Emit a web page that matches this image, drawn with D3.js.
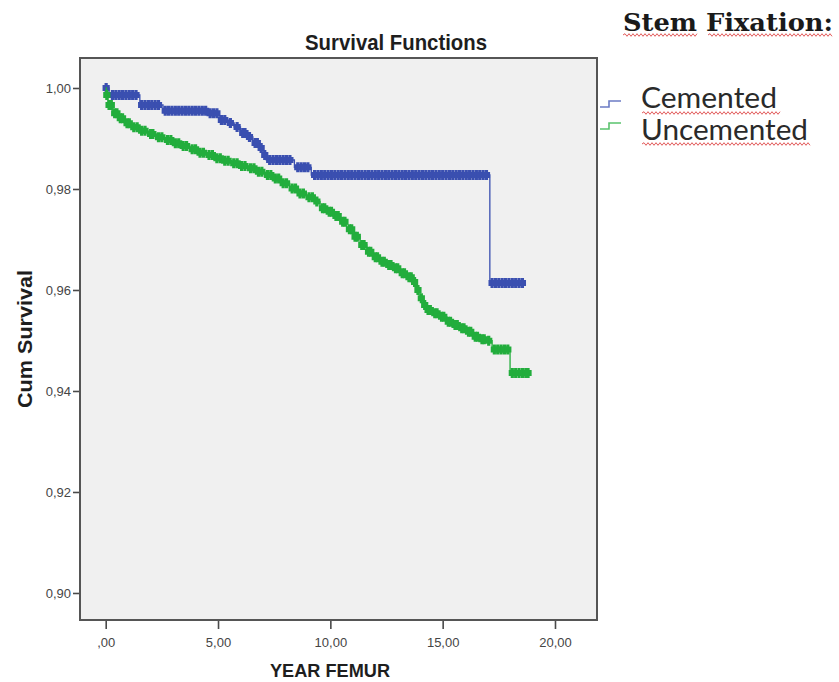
<!DOCTYPE html>
<html>
<head>
<meta charset="utf-8">
<script src="https://cdn.jsdelivr.net/npm/d3@7/dist/d3.min.js"></script>
<style>
  html, body { margin: 0; padding: 0; background: #ffffff; }
  svg { display: block; }
</style>
</head>
<body>
<svg id="chart" width="839" height="682"></svg>
<script>
// Kaplan-Meier survival of femoral stems by fixation type
const groups = ["Cemented", "Uncemented"];
const groupColors = ["#3a4fb0", "#22ad3c"];

// step events [years, cumulative survival]
const cementedEvents = [
  [0, 1.0], [0.15, 0.99861], [1.52, 0.99663], [2.55, 0.99550], [4.56, 0.99499],
  [5.05, 0.99366], [5.45, 0.99307], [5.72, 0.99228], [6.0, 0.99109], [6.3, 0.99030],
  [6.55, 0.98911], [6.85, 0.98812], [7.0, 0.98673], [7.15, 0.98574], [8.4, 0.98430],
  [9.15, 0.98277], [17.1, 0.96139]
];
const cementedEnd = 18.55;

const uncementedEvents = [
  [0, 1.0], [0.03, 0.99861], [0.10, 0.99663], [0.32, 0.99499], [0.55, 0.99400],
  [0.85, 0.99301], [1.14, 0.99222], [1.51, 0.99154], [1.88, 0.99089], [2.25, 0.99024],
  [2.63, 0.98970], [3.00, 0.98905], [3.37, 0.98851], [3.74, 0.98786], [4.11, 0.98719],
  [4.48, 0.98673], [4.85, 0.98608], [5.22, 0.98560], [5.59, 0.98509], [5.96, 0.98455],
  [6.33, 0.98410], [6.70, 0.98343], [7.08, 0.98277], [7.45, 0.98210], [7.82, 0.98113],
  [8.19, 0.98012], [8.56, 0.97911], [8.93, 0.97836], [9.30, 0.97752], [9.54, 0.97618],
  [9.84, 0.97550], [10.13, 0.97465], [10.43, 0.97352], [10.73, 0.97202], [11.02, 0.97055],
  [11.32, 0.96891], [11.62, 0.96758], [11.91, 0.96648], [12.21, 0.96560], [12.51, 0.96495],
  [12.80, 0.96430], [13.10, 0.96331], [13.40, 0.96251], [13.69, 0.96160], [13.84, 0.96000],
  [13.99, 0.95836], [14.14, 0.95703], [14.29, 0.95604], [14.58, 0.95539], [14.88, 0.95471],
  [15.18, 0.95372], [15.47, 0.95307], [15.77, 0.95242], [16.07, 0.95174], [16.36, 0.95075],
  [16.66, 0.95024], [16.96, 0.94996], [17.2, 0.94822], [18.0, 0.94356]
];
const uncementedEnd = 18.8;

// censored follow-up times (years)
const cementedCensored = [
  0.02, 0.3, 0.45, 0.6, 0.75, 0.9, 1.05, 1.2, 1.35, 1.6, 1.75, 1.9, 2.05, 2.2, 2.35,
  2.65, 2.8, 2.95, 3.1, 3.25, 3.4, 3.55, 3.7, 3.85, 4.0, 4.15, 4.3, 4.45, 4.65, 4.8,
  4.95, 5.15, 5.3, 5.55, 5.85, 6.1, 6.2, 6.4, 6.65, 6.75, 6.92, 7.08, 7.3, 7.45, 7.6,
  7.75, 7.9, 8.05, 8.2, 8.55, 8.7, 8.85, 9.0, 9.3, 9.45, 9.6, 9.75, 9.9, 10.05, 10.2,
  10.35, 10.5, 10.65, 10.8, 10.95, 11.1, 11.25, 11.4, 11.55, 11.7, 11.85, 12.0, 12.15,
  12.3, 12.45, 12.6, 12.75, 12.9, 13.05, 13.2, 13.35, 13.5, 13.65, 13.8, 13.95, 14.1,
  14.25, 14.4, 14.55, 14.7, 14.85, 15.0, 15.15, 15.3, 15.45, 15.6, 15.75, 15.9, 16.05,
  16.2, 16.35, 16.5, 16.65, 16.8, 16.95,
  17.2, 17.35, 17.5, 17.65, 17.8, 17.95, 18.1, 18.25, 18.4, 18.55
];
const uncementedCensored = [
  0.05, 0.15, 0.25, 0.4, 0.5, 0.65, 0.75, 0.95, 1.05, 1.25, 1.4, 1.6, 1.75, 2.0, 2.1,
  2.35, 2.5, 2.75, 2.9, 3.1, 3.25, 3.45, 3.6, 3.85, 4.0, 4.2, 4.35, 4.6, 4.75, 4.95,
  5.1, 5.3, 5.45, 5.7, 5.85, 6.05, 6.2, 6.45, 6.6, 6.8, 6.95, 7.2, 7.35, 7.55, 7.7,
  7.9, 8.05, 8.3, 8.45, 8.65, 8.8, 9.05, 9.2, 9.4, 9.65, 9.75, 9.95, 10.05, 10.25,
  10.35, 10.55, 10.65, 10.85, 10.95, 11.1, 11.2, 11.4, 11.5, 11.7, 11.8, 12.0, 12.1,
  12.3, 12.4, 12.6, 12.7, 12.9, 13.0, 13.2, 13.3, 13.5, 13.6, 13.75, 13.9, 14.05, 14.2,
  14.35, 14.45, 14.65, 14.75, 14.95, 15.05, 15.25, 15.35, 15.55, 15.65, 15.85, 15.95,
  16.15, 16.25, 16.45, 16.55, 16.75, 16.85, 17.05,
  17.3, 17.45, 17.6, 17.75, 17.9,
  18.1, 18.25, 18.4, 18.55, 18.7, 18.8
];

const xTickValues = [0, 5, 10, 15, 20];
const xTickLabels = [",00", "5,00", "10,00", "15,00", "20,00"];
const yTickValues = [0.90, 0.92, 0.94, 0.96, 0.98, 1.00];
const yTickLabels = ["0,90", "0,92", "0,94", "0,96", "0,98", "1,00"];

const chartTitle = "Survival Functions";
const xTitle = "YEAR FEMUR";
const yTitle = "Cum Survival";
const legendTitle = "Stem Fixation:";

// ---- layout ----
const plot = { left: 80, top: 58, width: 517, height: 562 };

const x = d3.scaleLinear()
  .domain([-1.144, 21.87])
  .range([plot.left, plot.left + plot.width]);
const y = d3.scaleLinear()
  .domain([0.89465, 1.00594])
  .range([plot.top + plot.height, plot.top]);

const svg = d3.select("#chart");
const sans = "'Liberation Sans', Arial, sans-serif";

// plot area
svg.append("rect")
  .attr("x", plot.left).attr("y", plot.top)
  .attr("width", plot.width).attr("height", plot.height)
  .attr("fill", "#f0f0f0")
  .attr("stroke", "#555555")
  .attr("stroke-width", 2);

// axes
const xAxis = svg.append("g")
  .attr("transform", `translate(0,${plot.top + plot.height + 1})`)
  .call(d3.axisBottom(x).tickValues(xTickValues)
    .tickFormat((d, i) => xTickLabels[i]).tickSize(8).tickPadding(9));
const yAxis = svg.append("g")
  .attr("transform", `translate(${plot.left - 1},0)`)
  .call(d3.axisLeft(y).tickValues(yTickValues)
    .tickFormat((d, i) => yTickLabels[i]).tickSize(6).tickPadding(2));

[xAxis, yAxis].forEach(g => {
  g.select(".domain").remove();
  g.selectAll(".tick line").attr("stroke", "#4a4a4a").attr("stroke-width", 1.6);
  g.selectAll(".tick text")
    .attr("fill", "#454545")
    .style("font-family", sans)
    .style("font-size", "13px");
});

// titles
svg.append("text")
  .attr("x", 396).attr("y", 50)
  .attr("text-anchor", "middle")
  .attr("textLength", 182).attr("lengthAdjust", "spacingAndGlyphs")
  .style("font-family", sans).style("font-weight", "bold").style("font-size", "22px")
  .attr("fill", "#1e1e1e")
  .text(chartTitle);

svg.append("text")
  .attr("x", 330).attr("y", 677)
  .attr("text-anchor", "middle")
  .attr("textLength", 120).attr("lengthAdjust", "spacingAndGlyphs")
  .style("font-family", sans).style("font-weight", "bold").style("font-size", "18px")
  .attr("fill", "#1e1e1e")
  .text(xTitle);

svg.append("text")
  .attr("transform", `translate(32,${plot.top + plot.height / 2}) rotate(-90)`)
  .attr("text-anchor", "middle")
  .attr("textLength", 138).attr("lengthAdjust", "spacingAndGlyphs")
  .style("font-family", sans).style("font-weight", "bold").style("font-size", "20px")
  .attr("fill", "#1e1e1e")
  .text(yTitle);

// survival curves
const series = [
  { events: cementedEvents, end: cementedEnd, censored: cementedCensored, color: groupColors[0] },
  { events: uncementedEvents, end: uncementedEnd, censored: uncementedCensored, color: groupColors[1] }
];

const stepLine = d3.line()
  .x(d => x(d[0])).y(d => y(d[1]))
  .curve(d3.curveStepAfter);
const bisect = d3.bisector(d => d[0]).right;
// censoring tick: a plus sign with a short wide bar and a tall narrow bar
const censorMark = "M-1.6,-5H1.6V-3H3.6V3H1.6V5H-1.6V3H-3.6V-3H-1.6Z";

series.forEach(s => {
  const last = s.events[s.events.length - 1];
  const pts = s.events.concat([[s.end, last[1]]]);
  svg.append("path")
    .datum(pts)
    .attr("fill", "none")
    .attr("stroke", s.color)
    .attr("stroke-width", 1.3)
    .attr("d", stepLine);

  const survAt = t => s.events[Math.max(0, bisect(s.events, t) - 1)][1];
  svg.append("g")
    .selectAll("path")
    .data(s.censored)
    .join("path")
    .attr("transform", t => `translate(${x(t)},${y(survAt(t))})`)
    .attr("d", censorMark)
    .attr("fill", s.color);
});

// legend
svg.append("text")
  .attr("x", 623).attr("y", 31)
  .attr("textLength", 210).attr("lengthAdjust", "spacingAndGlyphs")
  .style("font-family", "'DejaVu Serif', serif").style("font-weight", "bold").style("font-size", "24px")
  .attr("fill", "#1a1a1a")
  .text(legendTitle);

function wavy(x0, x1, yy) {
  const p = d3.path();
  p.moveTo(x0, yy);
  let up = true;
  for (let xx = x0 + 2; xx <= x1; xx += 2) {
    p.lineTo(xx, yy + (up ? -1.3 : 1.3));
    up = !up;
  }
  return p.toString();
}
const squiggle = "#e25a5a";
[[623, 698, 35], [708, 833, 35], [642, 780, 113], [642, 810, 144]].forEach(w => {
  svg.append("path").attr("d", wavy(w[0], w[1], w[2]))
    .attr("fill", "none").attr("stroke", squiggle).attr("stroke-width", 1);
});

const legendRows = [
  { label: groups[0], y: 108, len: 136, color: groupColors[0], iconY: 104 },
  { label: groups[1], y: 140, len: 167, color: groupColors[1], iconY: 126 }
];
legendRows.forEach(r => {
  svg.append("text")
    .attr("x", 641).attr("y", r.y)
    .attr("textLength", r.len).attr("lengthAdjust", "spacingAndGlyphs")
    .style("font-family", "Lato, 'Open Sans', sans-serif").style("font-size", "28px")
    .attr("fill", "#2a2a2a")
    .text(r.label);
  svg.append("path")
    .attr("d", `M600,${r.iconY + 3}H609V${r.iconY - 3}H621`)
    .attr("fill", "none")
    .attr("stroke", r.color)
    .attr("stroke-opacity", 0.75)
    .attr("stroke-width", 1.6);
});
</script>
</body>
</html>
